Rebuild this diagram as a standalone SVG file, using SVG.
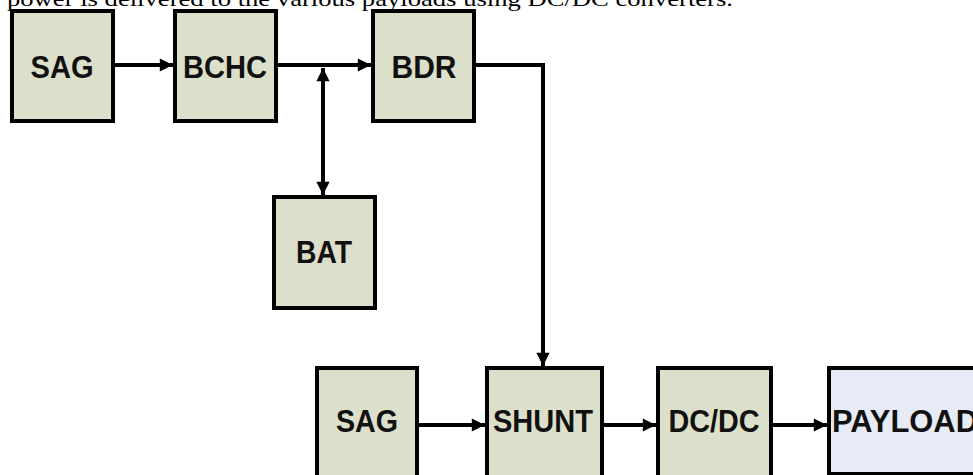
<svg xmlns="http://www.w3.org/2000/svg" width="973" height="475" viewBox="0 0 973 475">
<style>
.box{fill:#dcdfca;stroke:#000;stroke-width:4}
.pay{fill:#e6ebf6;stroke:#000;stroke-width:4}
.lbl{font-family:"Liberation Sans",Arial,sans-serif;font-weight:bold;font-size:32px;fill:#111;text-anchor:middle}
.cap{font-family:"Liberation Serif","Times New Roman",serif;font-size:22px;fill:#000}
.ln{fill:none;stroke:#000;stroke-width:4}
</style>
<defs>
<marker id="ah" viewBox="0 0 10 10" refX="10" refY="5" markerWidth="4.5" markerHeight="3.3" markerUnits="strokeWidth" orient="auto-start-reverse">
<path d="M0,0 L10,5 L0,10 z" fill="#000"/>
</marker>
</defs>
<rect width="973" height="475" fill="#fff"/>
<text class="cap" x="7" y="6" textLength="726" lengthAdjust="spacingAndGlyphs">power is delivered to the various payloads using DC/DC converters.</text>
<g id="sag1"><rect class="box" x="12" y="11" width="101" height="110"/><text class="lbl" x="62" y="78" textLength="63" lengthAdjust="spacingAndGlyphs">SAG</text></g>
<g id="bchc"><rect class="box" x="175" y="11" width="101" height="110"/><text class="lbl" x="225" y="78" textLength="84" lengthAdjust="spacingAndGlyphs">BCHC</text></g>
<g id="bdr"><rect class="box" x="373" y="11" width="101" height="110"/><text class="lbl" x="424" y="78" textLength="65" lengthAdjust="spacingAndGlyphs">BDR</text></g>
<g id="bat"><rect class="box" x="274" y="197" width="101" height="111"/><text class="lbl" x="324" y="263" textLength="56" lengthAdjust="spacingAndGlyphs">BAT</text></g>
<g id="sag2"><rect class="box" x="317" y="368" width="100" height="112"/><text class="lbl" x="367" y="432" textLength="62" lengthAdjust="spacingAndGlyphs">SAG</text></g>
<g id="shunt"><rect class="box" x="487" y="368" width="115" height="112"/><text class="lbl" x="543" y="432" textLength="100" lengthAdjust="spacingAndGlyphs">SHUNT</text></g>
<g id="dcdc"><rect class="box" x="658" y="368" width="113" height="112"/><text class="lbl" x="714" y="432" textLength="91" lengthAdjust="spacingAndGlyphs">DC/DC</text></g>
<g id="payload"><rect class="pay" x="829" y="368" width="160" height="106"/><text class="lbl" x="832" y="432" style="text-anchor:start" textLength="146" lengthAdjust="spacingAndGlyphs">PAYLOAD</text></g>
<g id="connectors">
<line class="ln" x1="113" y1="65" x2="173" y2="65" marker-end="url(#ah)"/>
<line class="ln" x1="276" y1="65" x2="371" y2="65" marker-end="url(#ah)"/>
<line class="ln" x1="323" y1="68" x2="323" y2="195" marker-start="url(#ah)" marker-end="url(#ah)"/>
<polyline class="ln" points="474,65 543,65 543,366" marker-end="url(#ah)"/>
<line class="ln" x1="417" y1="425" x2="485" y2="425" marker-end="url(#ah)"/>
<line class="ln" x1="602" y1="425" x2="656" y2="425" marker-end="url(#ah)"/>
<line class="ln" x1="771" y1="425" x2="827" y2="425" marker-end="url(#ah)"/>
</g>
</svg>
